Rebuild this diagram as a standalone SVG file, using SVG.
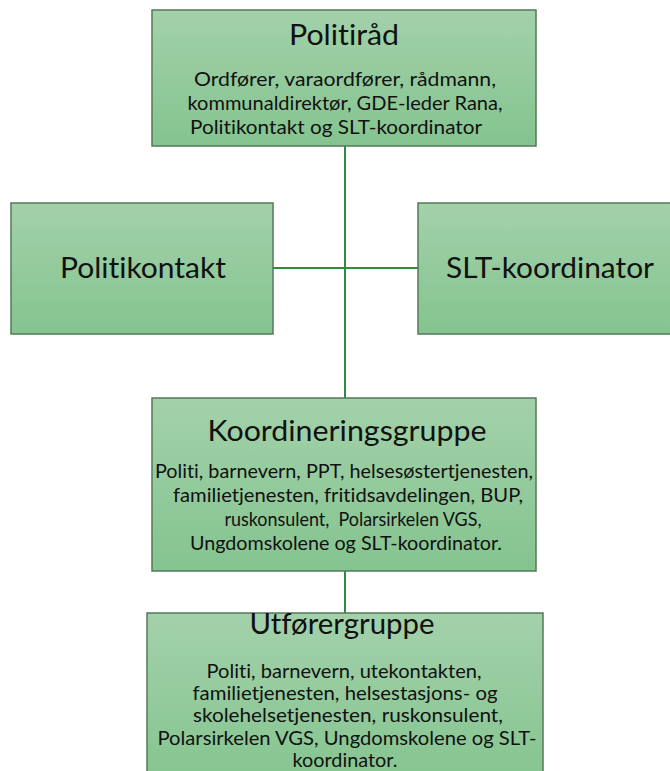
<svg xmlns="http://www.w3.org/2000/svg" width="670" height="771" viewBox="0 0 670 771">
<defs>
<linearGradient id="g" x1="0" y1="0" x2="0" y2="1">
<stop offset="0" stop-color="#a3d1aa"/>
<stop offset="1" stop-color="#84c48f"/>
</linearGradient>
<style>
.box{fill:url(#g);stroke:#56785b;stroke-width:1.5}
.t{font-family:Lato,"Liberation Sans",sans-serif;fill:#111;text-anchor:middle;font-variant-ligatures:none;white-space:pre}
.h{font-size:28px}
.b{font-size:19px}
.c{stroke:#2f8c3f;stroke-width:2;fill:none}
</style>
</defs>
<rect width="670" height="771" fill="#fff"/>
<g id="connectors">
<line class="c" x1="345" y1="146" x2="345" y2="398"/>
<line class="c" x1="273" y1="268" x2="418" y2="268"/>
<line class="c" x1="345" y1="571" x2="345" y2="613"/>
</g>
<g id="politirad">
<rect class="box" x="152" y="10" width="384" height="136"/>
<text class="t h" x="344" y="45" textLength="110" lengthAdjust="spacingAndGlyphs">Politiråd</text>
<text class="t b" x="345" y="86" textLength="302" lengthAdjust="spacingAndGlyphs">Ordfører, varaordfører, rådmann,</text>
<text class="t b" x="345" y="110" textLength="315" lengthAdjust="spacingAndGlyphs">kommunaldirektør, GDE-leder Rana,</text>
<text class="t b" x="336" y="134" textLength="292" lengthAdjust="spacingAndGlyphs">Politikontakt og SLT-koordinator</text>
</g>
<g id="politikontakt">
<rect class="box" x="11" y="203" width="262" height="131"/>
<text class="t h" x="143" y="278" textLength="166" lengthAdjust="spacingAndGlyphs">Politikontakt</text>
</g>
<g id="slt">
<rect class="box" x="418" y="203" width="260" height="131"/>
<text class="t h" x="550" y="278" textLength="208" lengthAdjust="spacingAndGlyphs">SLT-koordinator</text>
</g>
<g id="koordineringsgruppe">
<rect class="box" x="152" y="398" width="384" height="173"/>
<text class="t h" x="347" y="441" textLength="279" lengthAdjust="spacingAndGlyphs">Koordineringsgruppe</text>
<text class="t b" x="344" y="478" textLength="378" lengthAdjust="spacingAndGlyphs">Politi, barnevern, PPT, helsesøstertjenesten,</text>
<text class="t b" x="348" y="502" textLength="350" lengthAdjust="spacingAndGlyphs">familietjenesten, fritidsavdelingen, BUP,</text>
<text class="t b" x="353" y="526" textLength="257" lengthAdjust="spacingAndGlyphs" xml:space="preserve">ruskonsulent,  Polarsirkelen VGS,</text>
<text class="t b" x="346" y="550" textLength="312" lengthAdjust="spacingAndGlyphs">Ungdomskolene og SLT-koordinator.</text>
</g>
<g id="utforergruppe">
<rect class="box" x="147" y="613" width="396" height="175"/>
<text class="t h" x="342" y="634" textLength="185" lengthAdjust="spacingAndGlyphs">Utførergruppe</text>
<text class="t b" x="344" y="678" textLength="275" lengthAdjust="spacingAndGlyphs">Politi, barnevern, utekontakten,</text>
<text class="t b" x="345" y="700" textLength="305" lengthAdjust="spacingAndGlyphs">familietjenesten, helsestasjons- og</text>
<text class="t b" x="348" y="722" textLength="310" lengthAdjust="spacingAndGlyphs">skolehelsetjenesten, ruskonsulent,</text>
<text class="t b" x="347" y="745" textLength="379" lengthAdjust="spacingAndGlyphs">Polarsirkelen VGS, Ungdomskolene og SLT-</text>
<text class="t b" x="345" y="767" textLength="105" lengthAdjust="spacingAndGlyphs">koordinator.</text>
</g>
</svg>
